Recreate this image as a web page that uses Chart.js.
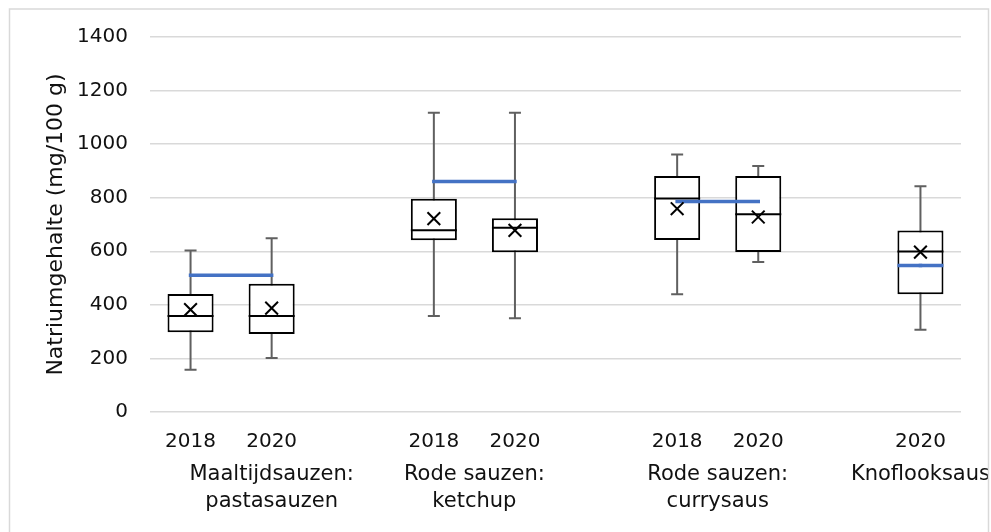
<!DOCTYPE html>
<html>
<head>
<meta charset="utf-8">
<script src="https://cdn.jsdelivr.net/npm/chart.js@4.4.1/dist/chart.umd.min.js"></script>
<style>
  body { margin: 0; background: #fff; }
  #wrap { width: 991px; height: 532px; position: relative; }
</style>
</head>
<body>
<div id="wrap"><canvas id="boxChart"></canvas></div>
<script>
// Slots op de x-as (lege slot = ruimte tussen groepen)
const jaren = ['2018', '2020', '', '2018', '2020', '', '2018', '2020', '', '2020'];
const groepen = [['Maaltijdsauzen:', 'pastasauzen'], ['Rode sauzen:', 'ketchup'], ['Rode sauzen:', 'currysaus'], ['Knoflooksaus']];
const groepPositie = [1, 3.5, 6.5, 9];

// Box plot waarden (mg/100 g)
const minimum = [158, 202, null, 358, 350, null, 440, 560, null, 307];
const q1      = [298, 291, null, 641, 596, null, 642, 597, null, 440];
const mediaan = [358, 358, null, 679, 688, null, 797, 738, null, 599];
const q3      = [441, 479, null, 796, 723, null, 881, 881, null, 678];
const maximum = [603, 649, null, 1117, 1117, null, 961, 918, null, 843];
const gemiddeld = [382, 388, null, 722, 678, null, 759, 728, null, 597];
const norm    = [511, 511, null, 861, 861, null, 786, 786, null, 547];

const yTicks = [0, 200, 400, 600, 800, 1000, 1200, 1400];

const FONT = 'DejaVu Sans';

// Snorharen onder de boxen tekenen
const whiskerPlugin = {
    id: 'whiskers',
    beforeDatasetsDraw(chart) {
        const { ctx, scales: { x, y } } = chart;
        ctx.save();
        ctx.strokeStyle = '#606060';
        ctx.lineWidth = 2;
        minimum.forEach((mn, i) => {
            if (mn === null) return;
            const px = x.getPixelForValue(i);
            const cap = 6;
            ctx.beginPath();
            ctx.moveTo(px, y.getPixelForValue(mn));
            ctx.lineTo(px, y.getPixelForValue(maximum[i]));
            ctx.moveTo(px - cap, y.getPixelForValue(mn));
            ctx.lineTo(px + cap, y.getPixelForValue(mn));
            ctx.moveTo(px - cap, y.getPixelForValue(maximum[i]));
            ctx.lineTo(px + cap, y.getPixelForValue(maximum[i]));
            ctx.stroke();
        });
        ctx.restore();
    }
};

// Groepslabels onder de jaartallen + rand van de grafiek
const labelPlugin = {
    id: 'groepLabels',
    afterDraw(chart) {
        const { ctx, scales: { x } } = chart;
        ctx.save();
        ctx.font = '21px "' + FONT + '"';
        ctx.fillStyle = '#111';
        ctx.textAlign = 'center';
        ctx.textBaseline = 'alphabetic';
        groepen.forEach((regels, g) => {
            regels.forEach((tekst, r) => {
                const w = ctx.measureText(tekst).width;
                let px = x.getPixelForValue(groepPositie[g]);
                px = Math.min(px, chart.width - w / 2 - 1);
                ctx.fillText(tekst, px, 480 + r * 27);
            });
        });
        ctx.strokeStyle = '#d9d9d9';
        ctx.lineWidth = 1.5;
        ctx.strokeRect(9.5, 9, 979, 540);
        ctx.restore();
    }
};

function losPunt(ctx) {
    const i = ctx.dataIndex;
    const d = ctx.dataset.data;
    const links = i > 0 ? d[i - 1] : null;
    const rechts = i < d.length - 1 ? d[i + 1] : null;
    return (links === null && rechts === null) ? 23 : 0;
}

new Chart(document.getElementById('boxChart'), {
    type: 'bar',
    data: {
        labels: jaren,
        datasets: [
            {
                type: 'line',
                label: 'gemiddeld',
                data: gemiddeld,
                showLine: false,
                pointStyle: 'crossRot',
                pointRadius: 9,
                pointBorderWidth: 2,
                pointBorderColor: '#000',
                pointBackgroundColor: 'rgba(0,0,0,0)',
                order: 1
            },
            {
                type: 'line',
                label: 'norm',
                data: norm,
                borderColor: '#4472C4',
                borderWidth: 3.5,
                borderCapStyle: 'square',
                spanGaps: false,
                pointStyle: 'line',
                pointRadius: losPunt,
                pointBorderWidth: 3.5,
                pointBorderColor: '#4472C4',
                order: 2
            },
            {
                type: 'line',
                label: 'mediaan',
                data: mediaan,
                showLine: false,
                pointStyle: 'line',
                pointRadius: 23,
                pointBorderWidth: 2,
                pointBorderColor: '#000',
                order: 3
            },
            {
                label: 'box',
                data: q1.map((v, i) => v === null ? null : [v, q3[i]]),
                backgroundColor: '#fff',
                borderColor: '#000',
                borderWidth: 2,
                borderSkipped: false,
                barPercentage: 0.568,
                categoryPercentage: 1,
                grouped: false,
                order: 4
            }
        ]
    },
    options: {
        responsive: true,
        maintainAspectRatio: false,
        animation: false,
        events: [],
        layout: { padding: { left: 39, top: 37, right: 30, bottom: 0 } },
        plugins: {
            legend: { display: false },
            tooltip: { enabled: false }
        },
        scales: {
            x: {
                grid: { display: false },
                border: { display: false },
                ticks: {
                    font: { family: FONT, size: 20 },
                    color: '#111',
                    padding: 10,
                    maxRotation: 0,
                    autoSkip: false
                },
                afterFit(scale) { scale.height = 120; }
            },
            y: {
                min: 0,
                max: 1400,
                afterBuildTicks(scale) { scale.ticks = yTicks.map(v => ({ value: v })); },
                grid: { color: '#d9d9d9', lineWidth: 1.5, drawTicks: false },
                border: { display: false },
                ticks: {
                    font: { family: FONT, size: 20 },
                    color: '#111',
                    padding: 22,
                    callback: v => String(v)
                },
                title: {
                    display: true,
                    text: 'Natriumgehalte (mg/100 g)',
                    font: { family: FONT, size: 22 },
                    color: '#111',
                    padding: { top: 4, bottom: 0 }
                },
                afterFit(scale) { scale.width = 111; }
            }
        }
    },
    plugins: [whiskerPlugin, labelPlugin]
});
</script>
</body>
</html>
